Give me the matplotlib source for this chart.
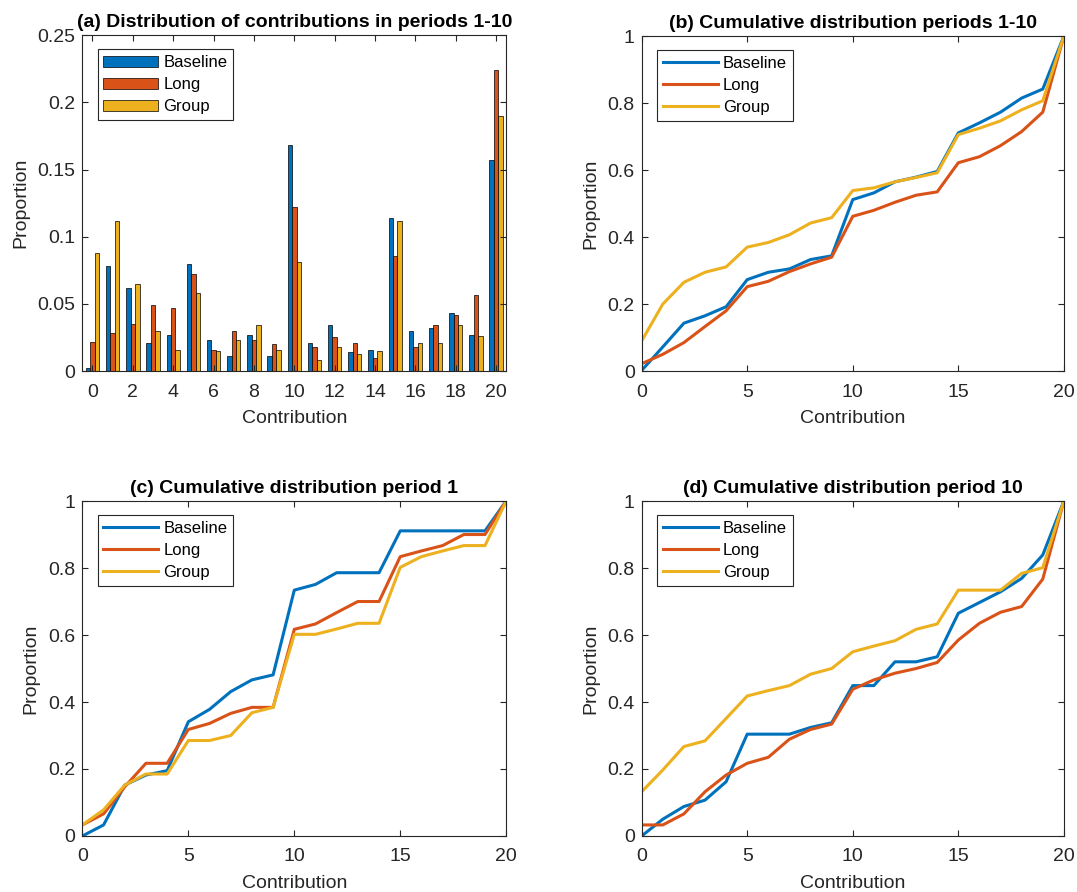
import matplotlib
matplotlib.use('Agg')
import matplotlib.pyplot as plt
import numpy as np

plt.rcParams['font.family'] = ['Liberation Sans', 'DejaVu Sans']

series = ['Baseline', 'Long', 'Group']
colors = ['#0072BD', '#D95319', '#EDB120']
contrib = list(range(21))

# (a) share of each contribution, periods 1-10
dist_base = [0.002, 0.078, 0.062, 0.021, 0.027, 0.080, 0.023, 0.011, 0.027, 0.011, 0.168,
             0.021, 0.034, 0.014, 0.016, 0.114, 0.030, 0.032, 0.043, 0.027, 0.157]
dist_long = [0.022, 0.028, 0.035, 0.049, 0.047, 0.072, 0.016, 0.030, 0.023, 0.020, 0.122,
             0.018, 0.025, 0.021, 0.010, 0.086, 0.018, 0.034, 0.042, 0.057, 0.224]
dist_group = [0.088, 0.112, 0.065, 0.030, 0.016, 0.058, 0.015, 0.023, 0.034, 0.016, 0.081,
              0.008, 0.018, 0.013, 0.015, 0.112, 0.021, 0.021, 0.034, 0.026, 0.190]

# (b) cumulative, periods 1-10
cum_all_base = [0.002, 0.072, 0.143, 0.165, 0.192, 0.273, 0.295, 0.305, 0.333, 0.344, 0.512,
                0.532, 0.565, 0.579, 0.596, 0.711, 0.741, 0.773, 0.815, 0.842, 1.0]
cum_all_long = [0.022, 0.050, 0.085, 0.133, 0.180, 0.252, 0.268, 0.297, 0.320, 0.340, 0.462,
                0.480, 0.504, 0.525, 0.535, 0.622, 0.640, 0.673, 0.715, 0.773, 1.0]
cum_all_group = [0.090, 0.200, 0.265, 0.295, 0.311, 0.370, 0.384, 0.407, 0.442, 0.458, 0.539,
                 0.547, 0.565, 0.578, 0.592, 0.706, 0.725, 0.747, 0.780, 0.807, 1.0]

# (c) cumulative, period 1
cum_p1_base = [0.0, 0.033, 0.152, 0.182, 0.195, 0.341, 0.378, 0.431, 0.466, 0.481, 0.734,
               0.751, 0.786, 0.786, 0.786, 0.911, 0.911, 0.911, 0.911, 0.911, 1.0]
cum_p1_long = [0.033, 0.066, 0.147, 0.217, 0.217, 0.318, 0.336, 0.366, 0.384, 0.384, 0.617,
               0.633, 0.667, 0.700, 0.700, 0.834, 0.851, 0.867, 0.900, 0.900, 1.0]
cum_p1_group = [0.033, 0.078, 0.152, 0.185, 0.185, 0.285, 0.285, 0.300, 0.368, 0.384, 0.602,
                0.602, 0.618, 0.635, 0.635, 0.802, 0.834, 0.851, 0.867, 0.867, 1.0]

# (d) cumulative, period 10
cum_p10_base = [0.0, 0.050, 0.088, 0.107, 0.162, 0.304, 0.304, 0.304, 0.324, 0.338, 0.449,
                0.449, 0.520, 0.520, 0.535, 0.665, 0.697, 0.729, 0.769, 0.839, 1.0]
cum_p10_long = [0.033, 0.033, 0.066, 0.132, 0.182, 0.217, 0.235, 0.289, 0.318, 0.334, 0.438,
                0.466, 0.486, 0.500, 0.518, 0.585, 0.635, 0.668, 0.685, 0.767, 1.0]
cum_p10_group = [0.132, 0.197, 0.267, 0.284, 0.351, 0.418, 0.434, 0.449, 0.483, 0.500, 0.550,
                 0.567, 0.583, 0.617, 0.633, 0.734, 0.734, 0.734, 0.784, 0.801, 1.0]

fig = plt.figure(figsize=(10.77, 8.92), dpi=100)
axc = '#262626'


def style(ax, title):
    ax.set_title(title, fontsize=14, fontweight='bold', pad=6)
    ax.set_xlabel('Contribution', fontsize=14, color=axc, labelpad=7)
    ax.set_ylabel('Proportion', fontsize=14, color=axc, labelpad=6)
    ax.tick_params(direction='in', top=True, right=True, length=4, labelsize=14,
                   colors=axc)
    ax.tick_params(axis='x', pad=9)
    ax.tick_params(axis='y', pad=5)
    for s in ax.spines.values():
        s.set_color(axc)
        s.set_linewidth(0.8)


def legend(ax):
    lg = ax.legend(loc='upper left', bbox_to_anchor=(0.036, 0.958), borderaxespad=0,
                   fontsize=12, handlelength=3.3, handletextpad=0.3, labelspacing=0.42,
                   borderpad=0.35, fancybox=False, framealpha=1, edgecolor=axc)
    lg.get_frame().set_linewidth(0.8)


# (a)
ax = fig.add_axes([0.0765, 0.584, 0.3935, 0.3765])
x = np.array(contrib)
w = 0.22
for i, (vals, c, name) in enumerate(zip([dist_base, dist_long, dist_group], colors, series)):
    ax.bar(x + (i - 1) * w, vals, width=w, color=c, edgecolor='black', linewidth=0.5,
           label=name)
ax.set_xlim(-0.5, 20.5)
ax.set_ylim(0, 0.25)
ax.set_xticks(range(0, 21, 2))
ax.set_yticks([0, 0.05, 0.1, 0.15, 0.2, 0.25])
ax.set_yticklabels(['0', '0.05', '0.1', '0.15', '0.2', '0.25'])
style(ax, '(a) Distribution of contributions in periods 1-10')
legend(ax)

panels = [
    ([0.5958, 0.584, 0.392, 0.3755], '(b) Cumulative distribution periods 1-10',
     [cum_all_base, cum_all_long, cum_all_group]),
    ([0.0765, 0.0628, 0.3935, 0.3755], '(c) Cumulative distribution period 1',
     [cum_p1_base, cum_p1_long, cum_p1_group]),
    ([0.5958, 0.0628, 0.392, 0.3755], '(d) Cumulative distribution period 10',
     [cum_p10_base, cum_p10_long, cum_p10_group]),
]
for pos, title, data in panels:
    ax = fig.add_axes(pos)
    for vals, c, name in zip(data, colors, series):
        ax.plot(contrib, vals, color=c, lw=2.2, label=name)
    ax.set_xlim(0, 20)
    ax.set_ylim(0, 1)
    ax.set_xticks([0, 5, 10, 15, 20])
    ax.set_yticks([0, 0.2, 0.4, 0.6, 0.8, 1])
    ax.set_yticklabels(['0', '0.2', '0.4', '0.6', '0.8', '1'])
    style(ax, title)
    legend(ax)

fig.savefig('out.png', dpi=100, facecolor='white')
